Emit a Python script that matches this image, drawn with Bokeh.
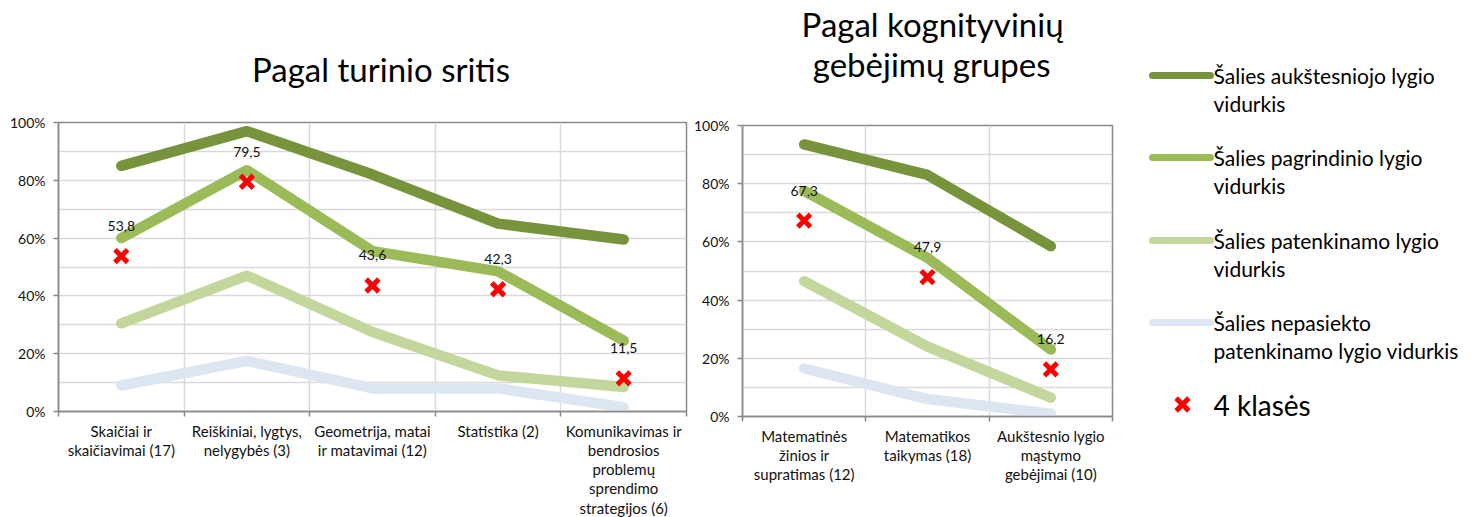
from bokeh.plotting import figure
from bokeh.layouts import row, column
from bokeh.models import Range1d, FixedTicker, PrintfTickFormatter, ColumnDataSource
from bokeh.embed import file_html
from bokeh.resources import INLINE
from bokeh.core.properties import value

FONT = "Lato"

# ---- data: chart 1 (content areas) ----
content_titles = ["Pagal turinio sritis"]
content_cats = [
    "Skaičiai ir\nskaičiavimai (17)",
    "Reiškiniai, lygtys,\nnelygybės (3)",
    "Geometrija, matai\nir matavimai (12)",
    "Statistika (2)",
    "Komunikavimas ir\nbendrosios\nproblemų\nsprendimo\nstrategijos (6)",
]
content_high = [85.0, 97.0, 82.0, 65.0, 59.5]
content_basic = [60.0, 83.5, 55.5, 48.5, 24.5]
content_satisf = [30.5, 47.0, 27.5, 12.5, 8.5]
content_below = [9.0, 17.5, 8.0, 8.0, 1.5]
content_class4 = [53.8, 79.5, 43.6, 42.3, 11.5]

# ---- data: chart 2 (cognitive groups) ----
cog_titles = ["Pagal kognityvinių", "gebėjimų grupes"]
cog_cats = [
    "Matematinės\nžinios ir\nsupratimas (12)",
    "Matematikos\ntaikymas (18)",
    "Aukštesnio lygio\nmąstymo\ngebėjimai (10)",
]
cog_high = [93.5, 83.0, 58.5]
cog_basic = [77.5, 54.5, 23.0]
cog_satisf = [46.5, 24.0, 6.5]
cog_below = [16.5, 6.0, 1.0]
cog_class4 = [67.3, 47.9, 16.2]

y_ticks = [0, 20, 40, 60, 80, 100]

series_names = [
    ["Šalies aukštesniojo lygio", "vidurkis"],
    ["Šalies pagrindinio lygio", "vidurkis"],
    ["Šalies patenkinamo lygio", "vidurkis"],
    ["Šalies nepasiekto", "patenkinamo lygio vidurkis"],
]
marker_name = "4 klasės"
series_colors = ["#77933C", "#9BBB59", "#C3D69B", "#DCE6F2"]
AXIS_COLOR = "#898989"
GRID_COLOR = "#D9D9D9"
TOTAL_H = 517
TITLE_H = 100


def blank_fig(w, h):
    f = figure(output_backend="svg", toolbar_location=None, width=w, height=h,
               x_range=Range1d(0, w), y_range=Range1d(h, 0),
               x_axis_location=None, y_axis_location=None, min_border=0,
               background_fill_color="white", border_fill_color="white")
    f.grid.visible = False
    f.outline_line_color = None
    f.title.visible = False
    return f


def make_chart(cats, series, class4, frame_w, frame_h, b_left, b_right, b_top):
    n = len(cats)
    xs = [i + 0.5 for i in range(n)]
    p = figure(output_backend="svg", toolbar_location=None,
               frame_width=frame_w, frame_height=frame_h,
               x_range=Range1d(0, n), y_range=Range1d(0, 100),
               min_border_left=b_left, min_border_right=b_right,
               min_border_top=b_top, min_border_bottom=TOTAL_H - TITLE_H - b_top - frame_h,
               background_fill_color="white", border_fill_color="white")
    p.title.visible = False
    for vals, col in zip(series, series_colors):
        p.line(xs, vals, line_color=col, line_width=10.5, line_cap="round", line_join="round")
    p.scatter(xs, class4, marker="x", size=18, line_color="#FF0000", line_width=5)
    src = ColumnDataSource(dict(x=xs, y=class4,
                                t=[f"{v:.1f}".replace(".", ",") for v in class4]))
    p.text(x="x", y="y", text="t", source=src, text_align="center", text_baseline="middle",
           y_offset=-30, text_font=value(FONT), text_font_size="14px", text_color="#111111")

    # x axis: labels in the centres, ticks at the category borders
    p.xaxis.ticker = FixedTicker(ticks=xs, minor_ticks=list(range(n + 1)))
    p.xaxis.major_label_overrides = {x: c for x, c in zip(xs, cats)}
    p.xaxis.major_tick_line_color = None
    p.xaxis.minor_tick_line_color = AXIS_COLOR
    p.xaxis.minor_tick_out = 5
    p.xaxis.minor_tick_in = 0
    p.xaxis.major_label_standoff = 4
    p.xaxis.major_label_text_line_height = 1.07
    p.xaxis.major_label_text_font_size = "15px"
    p.xgrid.ticker = FixedTicker(ticks=list(range(1, n)))

    p.yaxis.ticker = FixedTicker(ticks=y_ticks)
    p.yaxis.formatter = PrintfTickFormatter(format="%d%%")
    p.yaxis.major_tick_out = 5
    p.yaxis.major_tick_in = 0
    p.yaxis.minor_tick_line_color = None
    p.yaxis.major_label_standoff = 8
    p.yaxis.major_label_text_font_size = "14px"
    p.yaxis.major_tick_line_color = AXIS_COLOR

    for ax in (p.xaxis[0], p.yaxis[0]):
        ax.axis_line_color = AXIS_COLOR
        ax.axis_line_width = 1.5
        ax.major_tick_line_width = 1.5
        ax.minor_tick_line_width = 1.5
        ax.major_label_text_font = FONT
        ax.major_label_text_color = "#111111"
    p.xaxis.major_label_text_align = "center"
    p.ygrid.ticker = FixedTicker(ticks=list(range(10, 101, 10)))
    for g in (p.xgrid[0], p.ygrid[0]):
        g.grid_line_color = GRID_COLOR
        g.grid_line_width = 1.5
    p.outline_line_color = AXIS_COLOR
    p.outline_line_width = 1.5
    return p


def make_title(lines, width, xs, baselines, size):
    t = blank_fig(width, TITLE_H)
    t.text(x=xs, y=baselines, text=lines, text_align="left",
           text_baseline="alphabetic", text_font=value(FONT), text_font_size=size,
           text_color="#000000")
    return t


W1, W2 = 688, 432
p1 = make_chart(content_cats, [content_high, content_basic, content_satisf, content_below],
                content_class4, frame_w=628, frame_h=289, b_left=58, b_right=2, b_top=22)
t1 = make_title(content_titles, W1, [212], [68], "33px")
p2 = make_chart(cog_cats, [cog_high, cog_basic, cog_satisf, cog_below],
                cog_class4, frame_w=370, frame_h=291, b_left=54, b_right=8, b_top=25)
t2 = make_title(cog_titles, W2, [69, 82], [23, 63], "33px")

# ---- legend panel (pixel coordinates) ----
LW = 1473 - W1 - W2
lg = blank_fig(LW, TOTAL_H)
entry_y = [75, 157, 240, 322]
lg.segment(x0=[32] * 4, y0=entry_y, x1=[90] * 4, y1=entry_y, line_color=series_colors,
           line_width=7, line_cap="round")
tx, ty, tt = [], [], []
for y0, lines in zip(entry_y, series_names):
    for k, line in enumerate(lines):
        tx.append(93)
        ty.append(y0 + 28 * k)
        tt.append(line)
lg.text(x=tx, y=ty, text=tt, text_baseline="middle", text_align="left",
        text_font=value(FONT), text_font_size="21px", text_color="#000000")
lg.scatter(x=[62], y=[404], marker="x", size=18, line_color="#FF0000", line_width=5)
lg.text(x=[93], y=[404], text=[marker_name], text_baseline="middle", text_align="left",
        text_font=value(FONT), text_font_size="28px", text_color="#000000")

layout = row(column(t1, p1), column(t2, p2), lg)
open("out.html", "w").write(file_html(layout, INLINE))
